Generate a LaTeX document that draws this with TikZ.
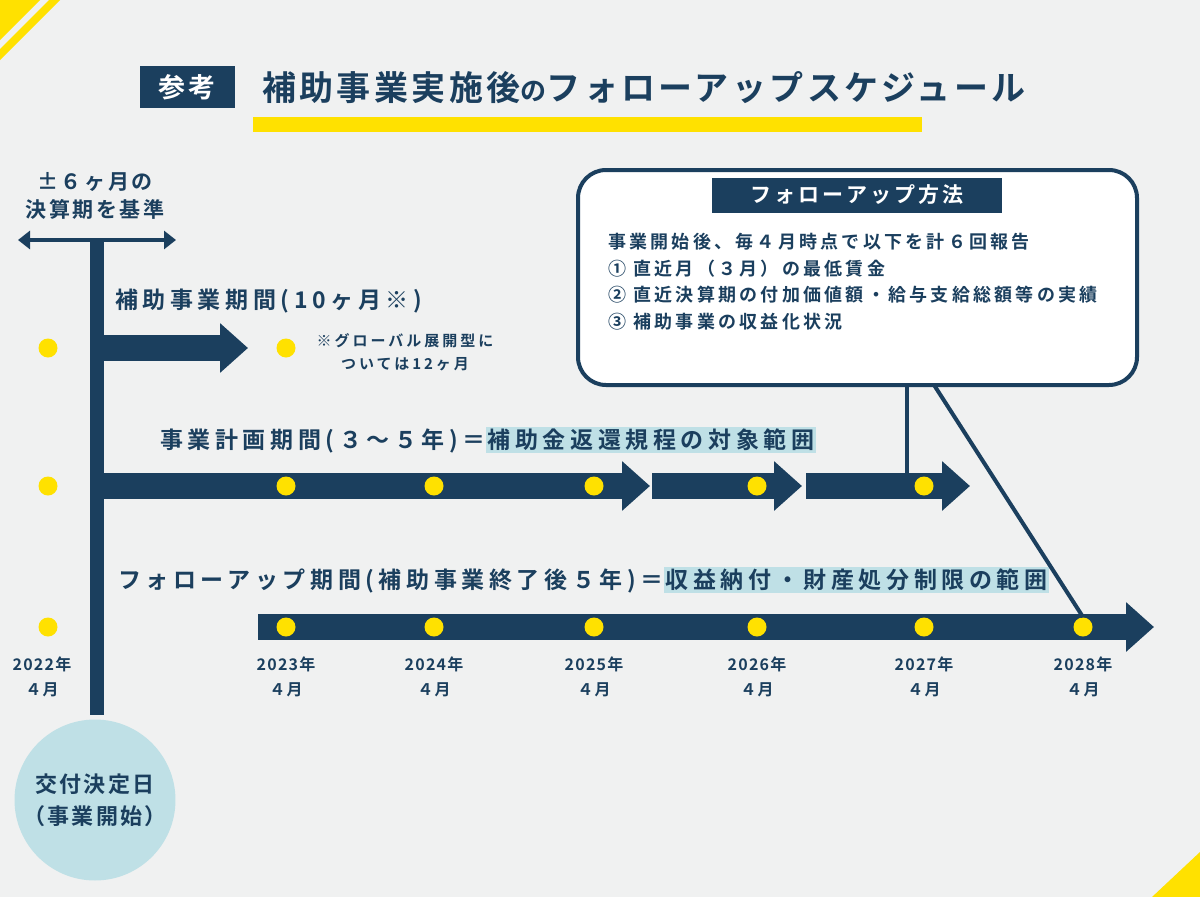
\documentclass[tikz,border=0pt]{standalone}
\usepackage{fontspec}
\setmainfont{Noto Sans CJK JP}[BoldFont={* Bold}]
\newcommand\lsp[1]{\addfontfeatures{LetterSpace=#1}}
\usetikzlibrary{arrows.meta}
\definecolor{navy}{HTML}{1B3F5E}
\definecolor{bg}{HTML}{F0F1F1}
\definecolor{ylw}{HTML}{FFE100}
\definecolor{hl}{HTML}{BFE0E6}
\begin{document}
\begin{tikzpicture}[x=1pt,y=-1pt,
  dot/.style={circle,fill=ylw,minimum size=19pt,inner sep=0pt},
  bigarrow/.style={line width=26pt,navy,-{Triangle[length=28pt,width=48pt]}},
  lbl/.style={font=\bfseries\fontsize{23}{26}\selectfont\lsp{20},text=navy,anchor=west,inner sep=0pt},
  yr/.style={font=\bfseries\fontsize{16}{25}\selectfont\lsp{8},text=navy,align=center},
  hlt/.style={fill=hl,inner sep=2pt}]
\fill[bg] (0,0) rectangle (1200,897);
\useasboundingbox (0,0) rectangle (1200,897);
\fill[ylw] (0,0) -- (40,0) -- (0,40) -- cycle;
\fill[ylw] (49,0) -- (60,0) -- (0,60) -- (0,49) -- cycle;
\fill[ylw] (1200,852) -- (1200,897) -- (1152,897) -- cycle;
% title
\node[fill=navy,text=white,font=\bfseries\fontsize{27}{30}\selectfont\lsp{10},minimum width=95pt,minimum height=42pt] (sank) at (187,87) {参考};
\node[anchor=west,text=navy,font=\bfseries\fontsize{34}{36}\selectfont\lsp{10},inner sep=0pt] (title) at (262,88) {補助事業実施後\fontsize{26}{30}\selectfont の\fontsize{34}{36}\selectfont フォローアップスケジュール};
\fill[ylw] (253,117) rectangle (922,132);
% left axis
\coordinate (vtop) at (97,238);
\coordinate (vbot) at (97,715);
\draw[navy,line width=14pt] (vtop) -- (vbot);
\coordinate (dl) at (18,240); \coordinate (dr) at (176,240);
\draw[navy,line width=4pt,{Triangle[length=12pt,width=18pt]}-{Triangle[length=12pt,width=18pt]}] (dl) -- (dr);
\node[yr,font=\bfseries\fontsize{21}{28}\selectfont\lsp{12}] (kijun) at (95,196) {±６ヶ月の\\決算期を基準};
% arrow 1
\coordinate (a1s) at (104,348); \coordinate (a1e) at (248,348);
\draw[bigarrow] (a1s) -- (a1e);
\node[lbl] (l1) at (115,301) {補助事業期間(10ヶ月※)};
\node[yr,font=\bfseries\fontsize{15}{23}\selectfont\lsp{20}] (note) at (405,352) {※グローバル展開型に\\ついては12ヶ月};
% arrow 2
\coordinate (a2s) at (104,486); \coordinate (a2e) at (650,486);
\coordinate (a2b) at (652,486); \coordinate (a2c) at (802,486);
\coordinate (a2d) at (806,486); \coordinate (a2f) at (970,486);
\draw[bigarrow] (a2s) -- (a2e);
\draw[bigarrow] (a2b) -- (a2c);
\draw[bigarrow] (a2d) -- (a2f);
\node[lbl] (l2) at (160,440) {事業計画期間(３～５年)＝\tikz[baseline=(h.base)]\node[hlt] (h) {補助金返還規程の対象範囲};};
% arrow 3
\coordinate (a3s) at (258,627); \coordinate (a3e) at (1154,627);
\draw[bigarrow] (a3s) -- (a3e);
\node[lbl] (l3) at (118,580) {フォローアップ期間(補助事業終了後５年)＝\tikz[baseline=(h.base)]\node[hlt] (h) {収益納付・財産処分制限の範囲};};
% dots
\foreach \y/\n in {348/a,486/b,627/c} \node[dot] (d0\n) at (48,\y) {};
\node[dot] (d1a) at (286,348) {};
\foreach \x/\n in {286/1,434/2,594/3,757/4,924/5} \node[dot] (db\n) at (\x,486) {};
\foreach \x/\n in {286/1,434/2,594/3,757/4,924/5,1083/6} \node[dot] (dc\n) at (\x,627) {};
% years
\node[yr] (y0) at (42,677) {2022年\\４月};
\foreach \x/\t [count=\i] in {286/2023,434/2024,594/2025,757/2026,924/2027,1083/2028}
  \node[yr] (y\i) at (\x,677) {\t 年\\４月};
% circle
\node[circle,fill=hl,minimum size=152pt,text=navy,align=center,font=\bfseries\fontsize{22}{32}\selectfont\lsp{10}] (start) at (95,800) {交付決定日\\（事業開始）};
% callout
\coordinate (c1) at (907,385); \coordinate (c1e) at (907,474);
\coordinate (c2) at (918,360); \coordinate (c2e) at (1083,617);
\draw[navy,line width=4pt] (c1) -- (c1e);
\draw[navy,line width=4pt] (c2) -- (c2e);
\draw[navy,line width=4pt,fill=white,rounded corners=28pt] (578,170) rectangle (1137,385);
\node[fill=navy,text=white,font=\bfseries\fontsize{21}{22}\selectfont\lsp{15},minimum width=290pt,minimum height=35pt] (hdr) at (857,195) {フォローアップ方法};
\node[anchor=north west,text=navy,align=left,font=\bfseries\fontsize{18}{26.5}\selectfont\lsp{18},inner sep=0pt] (body) at (608,233) {事業開始後、毎４月時点で以下を計６回報告\\① 直近月（３月）の最低賃金\\② 直近決算期の付加価値額・給与支給総額等の実績\\③ 補助事業の収益化状況};
\end{tikzpicture}
\end{document}
